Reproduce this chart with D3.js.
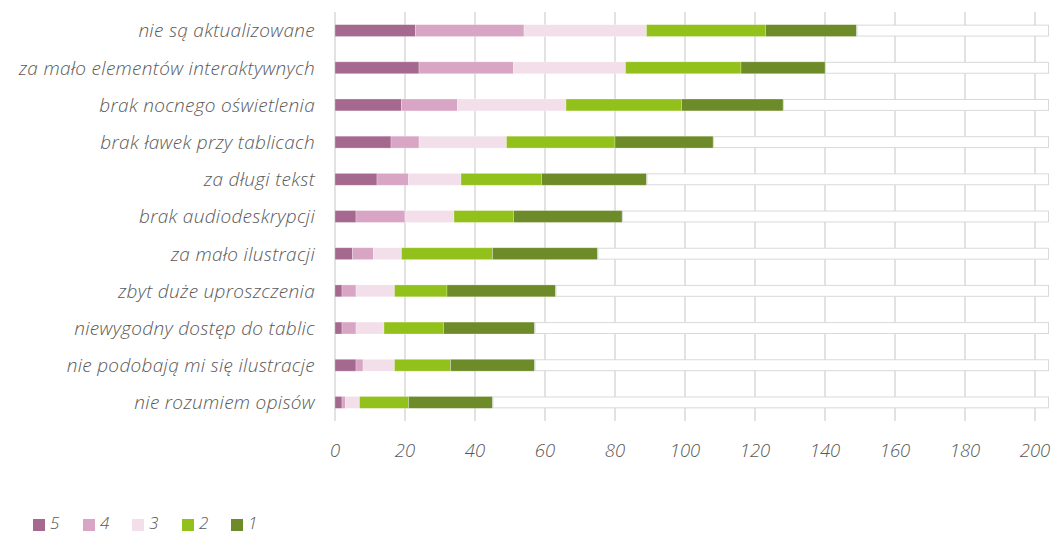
<!DOCTYPE html>
<html>
<head>
<meta charset="utf-8">
<script src="https://cdn.jsdelivr.net/npm/d3@7"></script>
<style>
  html, body { margin: 0; padding: 0; background: #fff; }
  svg text { font-family: "Open Sans", "Noto Sans", sans-serif; font-style: italic; font-weight: 300; fill: #595959; }
</style>
</head>
<body>
<svg id="chart" width="1061" height="533"></svg>
<script>
// Categories (top to bottom)
const categories = [
  "nie są aktualizowane",
  "za mało elementów interaktywnych",
  "brak nocnego oświetlenia",
  "brak ławek przy tablicach",
  "za długi tekst",
  "brak audiodeskrypcji",
  "za mało ilustracji",
  "zbyt duże uproszczenia",
  "niewygodny dostęp do tablic",
  "nie podobają mi się ilustracje",
  "nie rozumiem opisów"
];

// Counts per rating
const rating5 = [23, 24, 19, 16, 12, 6, 5, 2, 2, 6, 2];
const rating4 = [31, 27, 16, 8, 9, 14, 6, 4, 4, 2, 1];
const rating3 = [35, 32, 31, 25, 15, 14, 8, 11, 8, 9, 4];
const rating2 = [34, 33, 33, 31, 23, 17, 26, 15, 17, 16, 14];
const rating1 = [26, 24, 29, 28, 30, 31, 30, 31, 26, 24, 24];

const totalRespondents = 204;
const seriesNames = ["5", "4", "3", "2", "1"];
const seriesColors = ["#a5698f", "#d8a5c5", "#f2dfea", "#93c11b", "#6e8b29"];
const xTicks = [0, 20, 40, 60, 80, 100, 120, 140, 160, 180, 200];

const svg = d3.select("#chart");
const margin = { left: 335, right: 12, top: 12, bottom: 112 };
const width = 1061, height = 533;

const x = d3.scaleLinear().domain([0, totalRespondents]).range([margin.left, margin.left + 3.5 * totalRespondents]);
const y = d3.scaleBand().domain(categories).range([margin.top, height - margin.bottom]).paddingInner(0.68).paddingOuter(0.34);

// Gridlines with tick marks below the plot
const gridBottom = height - margin.bottom;
svg.append("g").selectAll("line").data(xTicks).join("line")
  .attr("x1", d => x(d)).attr("x2", d => x(d))
  .attr("y1", margin.top).attr("y2", gridBottom)
  .attr("stroke", "#d9d9d9").attr("stroke-width", 1.5);

// Stacked data
const rows = categories.map((c, i) => {
  const vals = [rating5[i], rating4[i], rating3[i], rating2[i], rating1[i]];
  const sum = d3.sum(vals);
  return { c, vals, rest: totalRespondents - sum };
});

const g = svg.append("g");
rows.forEach(r => {
  let acc = 0;
  r.vals.forEach((v, k) => {
    g.append("rect")
      .attr("x", x(acc)).attr("width", x(acc + v) - x(acc))
      .attr("y", y(r.c)).attr("height", y.bandwidth())
      .attr("fill", seriesColors[k])
      .attr("stroke", "rgba(255,255,255,0.35)").attr("stroke-width", 0.75);
    acc += v;
  });
  // remaining respondents
  g.append("rect")
    .attr("x", x(acc) + 0.5).attr("width", x(acc + r.rest) - x(acc) - 1)
    .attr("y", y(r.c) + 0.5).attr("height", y.bandwidth() - 1)
    .attr("fill", "#ffffff")
    .attr("stroke", "#d9d9d9").attr("stroke-width", 1);
});

// Category labels
svg.append("g").selectAll("text").data(categories).join("text")
  .attr("x", margin.left - 20)
  .attr("y", d => y(d) + y.bandwidth() / 2)
  .attr("dy", "0.36em")
  .attr("text-anchor", "end")
  .attr("font-size", 19)
  .attr("letter-spacing", 0.3)
  .text(d => d);

// X tick labels
svg.append("g").selectAll("text").data(xTicks).join("text")
  .attr("x", d => x(d))
  .attr("y", 457)
  .attr("text-anchor", "middle")
  .attr("font-size", 18.5)
  .text(d => d);

// Legend
const legend = svg.append("g");
const legendX = [33, 83, 132, 182, 231];
seriesNames.forEach((n, k) => {
  legend.append("rect").attr("x", legendX[k]).attr("y", 519).attr("width", 12).attr("height", 12).attr("fill", seriesColors[k]);
  legend.append("text").attr("x", legendX[k] + 17).attr("y", 529).attr("font-size", 17).text(n);
});
</script>
</body>
</html>
